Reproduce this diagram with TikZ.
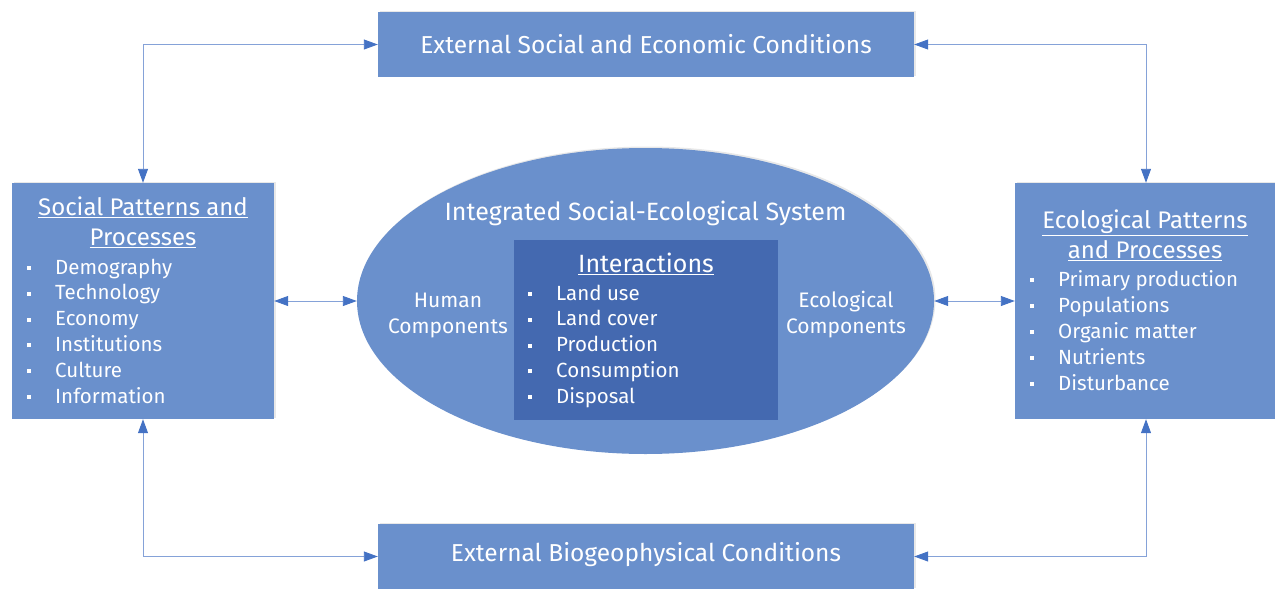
\documentclass[tikz,border=0pt]{standalone}
\usepackage{fontspec}
\setmainfont{Fira Sans}
\usetikzlibrary{arrows.meta,shapes.geometric,shadows}

\definecolor{boxblue}{RGB}{106,144,204}
\definecolor{innerblue}{RGB}{68,105,176}
\definecolor{tipblue}{RGB}{68,114,196}
\definecolor{lineblue}{RGB}{133,162,216}

% small square bullet followed by a fixed indent
\newcommand{\sqbul}[1]{\makebox[28pt][l]{\rule[0.2em]{4pt}{4pt}}#1}

\tikzset{
  panel/.style={fill=boxblue, draw=none, inner sep=0pt,
    drop shadow={opacity=0.18, shadow xshift=1.5pt, shadow yshift=1.5pt}},
  core/.style={fill=innerblue, draw=none, inner sep=0pt},
  label/.style={text=white, inner sep=0pt},
  link/.style={draw=lineblue, line width=0.9pt,
    {Triangle[length=14pt,width=10pt,color=tipblue]}-{Triangle[length=14pt,width=10pt,color=tipblue]}},
}

\begin{document}
\begin{tikzpicture}[x=1pt,y=-1pt]
\useasboundingbox (0,0) rectangle (1275,589);

% outer boxes
\node[panel, minimum width=536pt, minimum height=65pt] (ext) at (646,44.5) {};
\node[panel, minimum width=536pt, minimum height=65pt] (bio) at (646,556.5) {};
\node[panel, minimum width=262pt, minimum height=236pt] (soc) at (143,301) {};
\node[panel, minimum width=262pt, minimum height=236pt] (eco) at (1146,301) {};

% central system
\node[panel, ellipse, minimum width=577pt, minimum height=306pt] (ses) at (645.5,301) {};
\node[core, minimum width=264pt, minimum height=180pt] (inter) at (646,330) {};

% texts
\node[label, font=\fontsize{24.5}{28}\selectfont] (extT) at (646,44) {External Social and Economic Conditions};
\node[label, font=\fontsize{24.5}{28}\selectfont] (bioT) at (646,555) {External Biogeophysical Conditions};

\node[label, font=\fontsize{24}{30}\selectfont, align=center] (socT) at (143,222)
  {\underline{Social Patterns and}\\\underline{Processes}};
\node[label, anchor=base west, font=\fontsize{20.5}{25.8}\selectfont] (socL) at (27,274)
  {\begin{tabular}[t]{@{}l@{}}\sqbul{Demography}\\\sqbul{Technology}\\\sqbul{Economy}\\\sqbul{Institutions}\\\sqbul{Culture}\\\sqbul{Information}\end{tabular}};

\node[label, font=\fontsize{24}{30}\selectfont, align=center] (ecoT) at (1145,235)
  {\underline{Ecological Patterns}\\\underline{and Processes}};
\node[label, anchor=base west, font=\fontsize{20.5}{26}\selectfont] (ecoL) at (1030,286)
  {\begin{tabular}[t]{@{}l@{}}\sqbul{Primary production}\\\sqbul{Populations}\\\sqbul{Organic matter}\\\sqbul{Nutrients}\\\sqbul{Disturbance}\end{tabular}};

\node[label, font=\fontsize{25}{28}\selectfont] (sesT) at (645.5,213) {Integrated Social-Ecological System};
\node[label, font=\fontsize{25}{28}\selectfont] (interT) at (646,264) {\underline{Interactions}};
\node[label, anchor=base west, font=\fontsize{20.5}{25.8}\selectfont] (interL) at (528,300)
  {\begin{tabular}[t]{@{}l@{}}\sqbul{Land use}\\\sqbul{Land cover}\\\sqbul{Production}\\\sqbul{Consumption}\\\sqbul{Disposal}\end{tabular}};

\node[label, font=\fontsize{21}{26}\selectfont, align=center] (hum) at (448,315) {Human\\Components};
\node[label, font=\fontsize{21}{26}\selectfont, align=center] (ecc) at (846,315) {Ecological\\Components};

% connectors
\draw[link] (soc.north) |- (ext.west);
\draw[link] (eco.north) |- (ext.east);
\draw[link] (soc.south) |- (bio.west);
\draw[link] (eco.south) |- (bio.east);
\draw[link] (soc.east) -- (ses.west);
\draw[link] (ses.east) -- (eco.west);
\end{tikzpicture}
\end{document}
